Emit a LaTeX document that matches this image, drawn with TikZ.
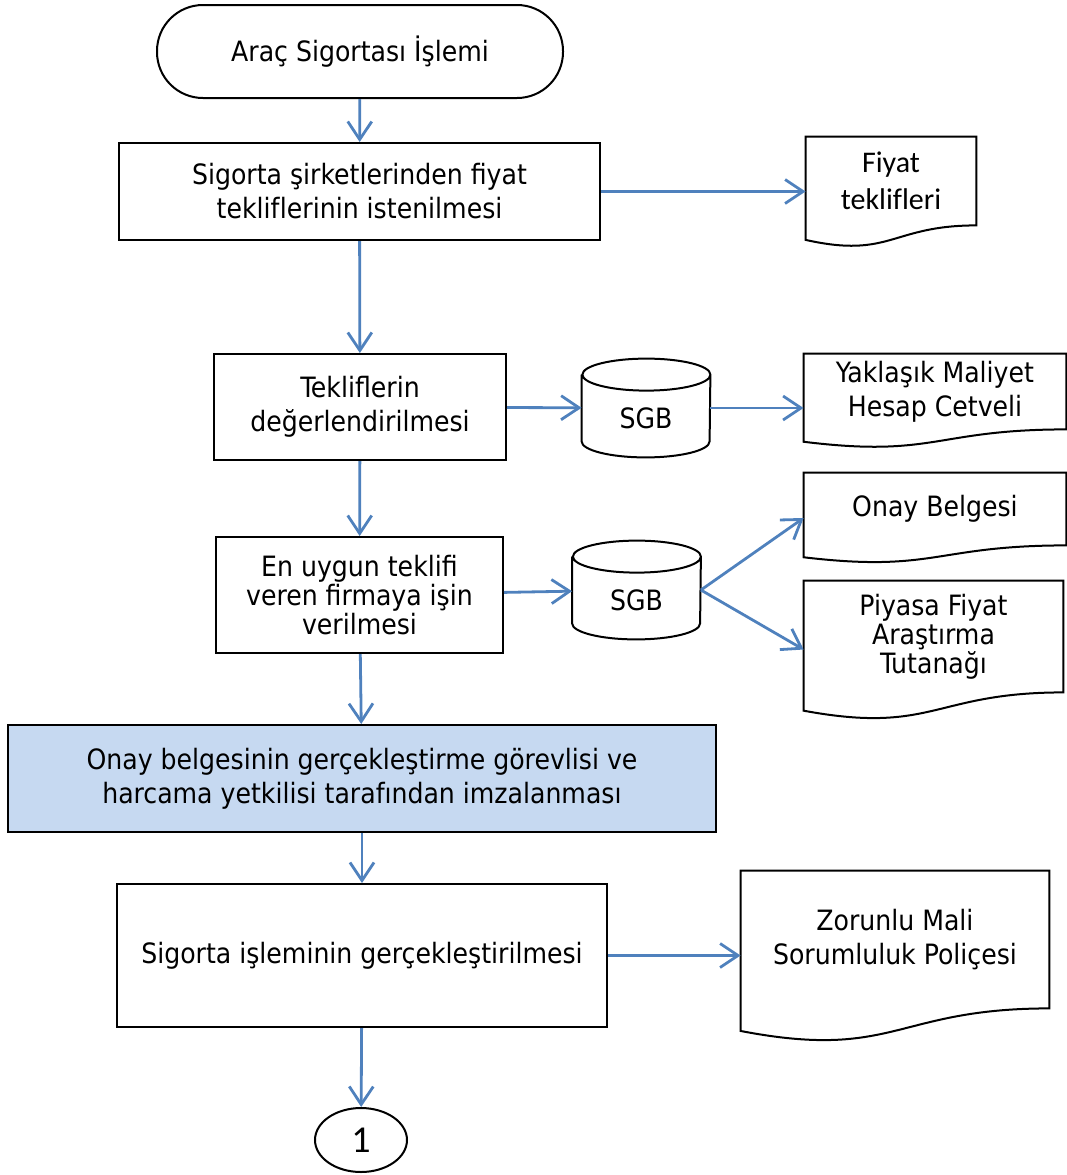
\documentclass[tikz,border=0pt]{standalone}
\usepackage{fontspec}
\setmainfont{DejaVu Sans Condensed}
\newfontfamily\calibri{Carlito}
\usetikzlibrary{arrows.meta,calc,shapes.geometric}
\definecolor{flowblue}{HTML}{4F81BD}
\definecolor{boxblue}{HTML}{C6D9F1}
\begin{document}
\begin{tikzpicture}[x=0.5pt,y=-0.5pt,
  every node/.style={font=\fontsize{14}{17}\selectfont,align=center,inner sep=0pt},
  stepbox/.style={draw,line width=1pt},
  tight/.style={font=\fontsize{14}{14.5}\selectfont},
  flow/.style={draw=flowblue,line width=1.4pt,-{Straight Barb[length=9pt,width=12pt,line width=1.4pt]}}]
\useasboundingbox (0,0) rectangle (1067,1175);
% main steps
\node[stepbox,rounded corners=23pt,minimum width=203pt,minimum height=46.5pt] (start) at (360,51.5) {Araç Sigortası İşlemi};
\node[stepbox,minimum width=240.5pt,minimum height=48.5pt] (box1) at (359.5,191.5) {Sigorta şirketlerinden fiyat\\teklif\/lerinin istenilmesi};
\node[stepbox,minimum width=146pt,minimum height=53pt] (box2) at (360,407) {Tekliflerin\\değerlendirilmesi};
\node[stepbox,tight,minimum width=143.5pt,minimum height=58pt] (box3) at (359.5,595) {En uygun teklifi\\veren firmaya işin\\verilmesi};
\node[stepbox,fill=boxblue,minimum width=354pt,minimum height=53.5pt] (box4) at (362,778.5) {Onay belgesinin gerçekleştirme görevlisi ve\\harcama yetkilisi tarafından imzalanması};
\node[stepbox,minimum width=245pt,minimum height=71.5pt] (box5) at (362,955.5) {Sigorta işleminin gerçekleştirilmesi};
\node[stepbox,ellipse,minimum width=46pt,minimum height=32pt,font=\calibri\fontsize{19}{22}\selectfont] (end) at (361,1140) {1};
% documents
\node[minimum width=85pt,minimum height=44pt,font=\calibri\fontsize{15}{18.5}\selectfont] (fiyat) at (891,181) {Fiyat\\teklif\/leri};
\node[minimum width=131pt,minimum height=37.5pt] (maliyet) at (935,391.5) {Yaklaşık Maliyet\\Hesap Cetveli};
\node[minimum width=131pt,minimum height=36pt] (onay) at (935,509) {Onay Belgesi};
\node[tight,minimum width=129.5pt,minimum height=55.5pt] (piyasa) at (933.5,636.5) {Piyasa Fiyat\\Araştırma\\Tutanağı};
\node[minimum width=154pt,minimum height=68.5pt] (police) at (895,939.5) {Zorunlu Mali\\Sorumluluk Poliçesi};
\foreach \n/\r in {fiyat/88,maliyet/75,onay/72,piyasa/111,police/137}
  \draw[line width=1pt] (\n.north west) -- (\n.north east) -- (\n.south east)
    .. controls (\n.south) and ($(\n.south)+(0,{0.3815*\r})$) .. ($(\n.south west)+(0,{0.1646*\r})$) -- cycle;
% stores
\node[minimum width=64pt,minimum height=49pt] (sgb1) at (646,408) {\raisebox{-5pt}[\height][0pt]{SGB}};
\node[minimum width=64pt,minimum height=49pt] (sgb2) at (636.5,590) {\raisebox{-5pt}[\height][0pt]{SGB}};
\foreach \n in {sgb1,sgb2}
  \draw[line width=1pt] ($(\n.north west)+(0,16)$) -- ($(\n.south west)+(0,-16)$)
    arc[start angle=180,end angle=360,x radius=32pt,y radius=8pt]
    -- ($(\n.north east)+(0,16)$) arc[start angle=0,end angle=360,x radius=32pt,y radius=8pt];
% connectors
\draw[flow] (start) -- (box1);
\draw[flow] (box1) -- (box2);
\draw[flow] (box2) -- (box3);
\draw[flow] (box3) -- (box4);
\draw[flow] (box4) -- (box5);
\draw[flow] (box5) -- (end);
\draw[flow] (box1.east) -- (box1.east -| fiyat.west);
\draw[flow] (box2) -- (sgb1);
\draw[flow] (sgb1.east) -- (sgb1.east -| maliyet.west);
\draw[flow] (box3) -- (sgb2);
\draw[flow] (sgb2.east) -- ([yshift=-4.5pt]onay.west);
\draw[flow] (sgb2.east) -- ([yshift=-6.5pt]piyasa.west);
\draw[flow] (box5.east) -- (box5.east -| police.west);
\end{tikzpicture}
\end{document}
